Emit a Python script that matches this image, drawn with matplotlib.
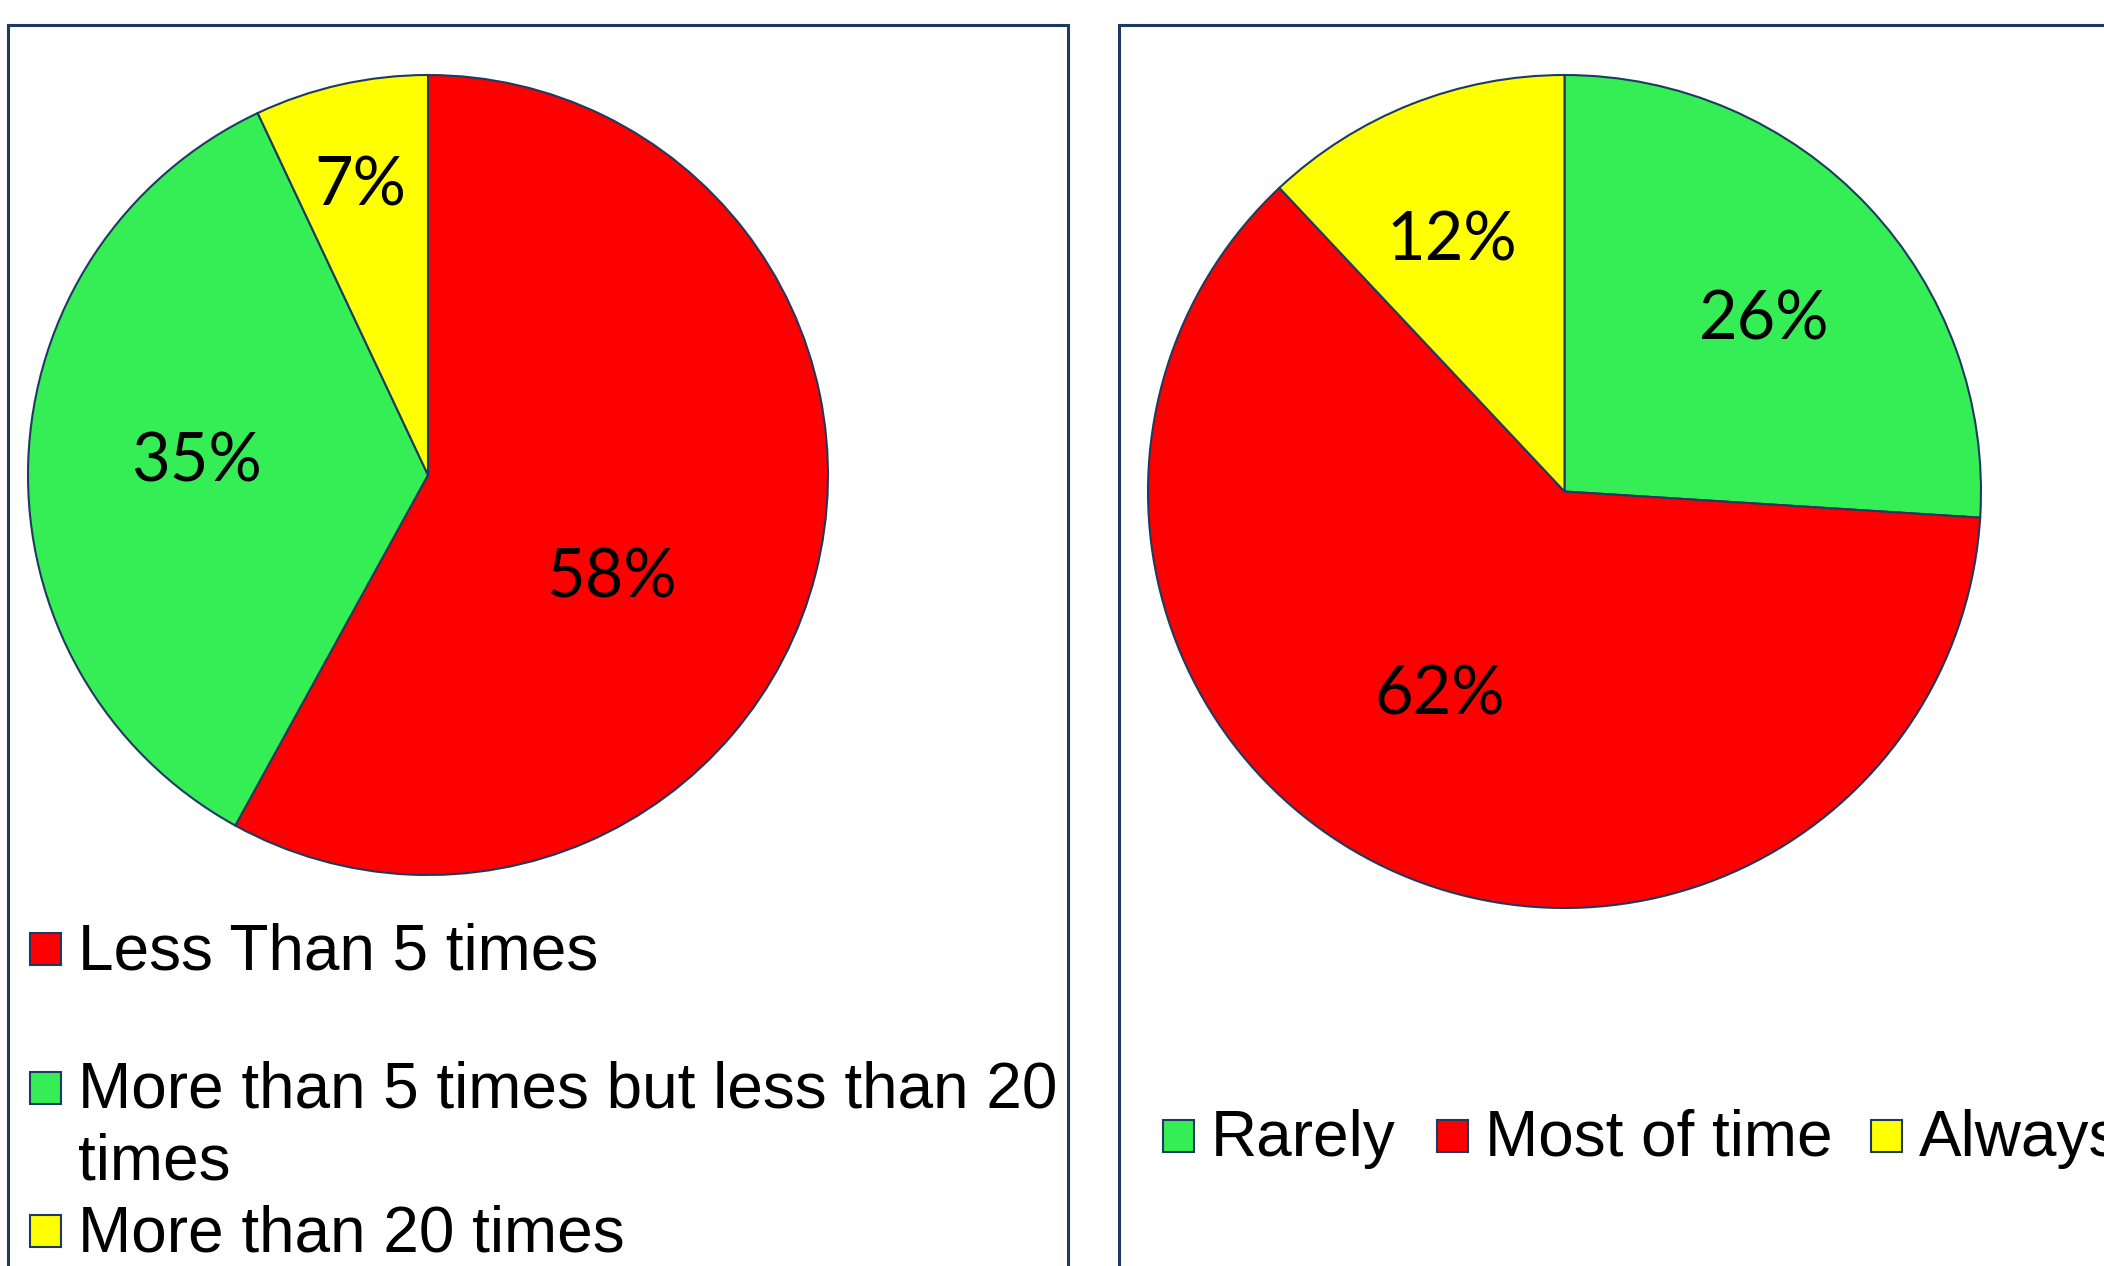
import numpy as np
import matplotlib.pyplot as plt
from matplotlib.patches import Rectangle

# visit frequency (left) and usage frequency (right)
visit_labels = ['Less Than 5 times', 'More than 5 times but less than 20\ntimes', 'More than 20 times']
visit_share = [58, 35, 7]
usage_labels = ['Rarely', 'Most of time', 'Always']
usage_share = [26, 62, 12]

RED = '#FF0000'
GREEN = '#35EE55'
YELLOW = '#FFFF00'
NAVY = '#1F3A60'

W, H = 2104, 1266


def px_axes(fig, x0, y0, x1, y1):
    # axes placed by pixel box, y measured from the top
    return fig.add_axes([x0 / W, 1 - y1 / H, (x1 - x0) / W, (y1 - y0) / H])


def draw_pie(ax, values, colors, label_pos):
    wedges, _ = ax.pie(values, colors=colors, startangle=90, counterclock=False,
                       radius=1.0, wedgeprops=dict(edgecolor=NAVY, linewidth=1.5))
    for v, (lx, ly) in zip(values, label_pos):
        ax.text(lx, ly, '{}%'.format(v), fontsize=48, family='Lato',
                ha='center', va='center', color='black')
    ax.set_xlim(-1.0, 1.0)
    ax.set_ylim(-1.0, 1.0)
    ax.set_aspect('equal')
    ax.axis('off')
    return wedges


def key(fig, x, y, color, text, size=46):
    fig.patches.append(Rectangle(((x - 15) / W, 1 - (y + 16) / H), 31 / W, 32 / H,
                                 transform=fig.transFigure, facecolor=color,
                                 edgecolor=NAVY, linewidth=1.5))
    fig.text((x + 33) / W, 1 - (y + 3) / H, text, fontsize=size, family='Liberation Sans',
             ha='left', va='center')


fig = plt.figure(figsize=(W / 100, H / 100), dpi=100)

# panel frames
for x0, x1 in [(8, 1068), (1119, 2120)]:
    fig.patches.append(Rectangle((x0 / W, -0.05), (x1 - x0) / W, 1.05 - 25 / H,
                                 transform=fig.transFigure, facecolor='none',
                                 edgecolor=NAVY, linewidth=2.2))

# left pie
ax1 = px_axes(fig, 28, 75, 828, 875)
draw_pie(ax1, visit_share, [RED, GREEN, YELLOW],
         [(0.46, -0.26), (-0.58, 0.03), (-0.17, 0.72)])

# right pie
ax2 = px_axes(fig, 1148, 75, 1981, 908)
draw_pie(ax2, usage_share, [GREEN, RED, YELLOW],
         [(0.48, 0.41), (-0.30, -0.49), (-0.27, 0.60)])

# left legend
key(fig, 45, 949, RED, visit_labels[0])
key(fig, 45, 1088, GREEN, visit_labels[1].split('\n')[0])
fig.text(78 / W, 1 - 1163 / H, visit_labels[1].split('\n')[1], fontsize=46,
         family='Liberation Sans', ha='left', va='center')
key(fig, 45, 1231, YELLOW, visit_labels[2])

# right legend, one row
for x, c, t in zip([1178, 1452, 1886], [GREEN, RED, YELLOW], usage_labels):
    key(fig, x, 1136, c, t)

fig.savefig('out.png', dpi=100)
